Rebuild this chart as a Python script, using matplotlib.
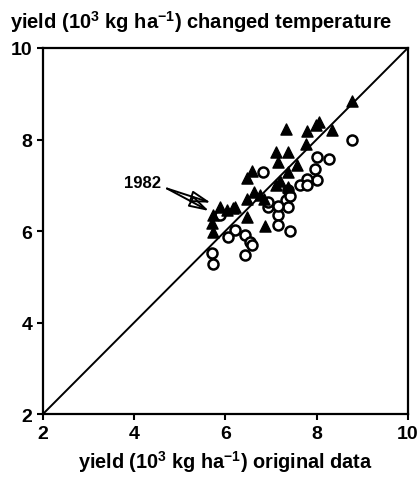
import matplotlib
matplotlib.use("Agg")
import matplotlib.pyplot as plt

plt.rcParams['font.family'] = ['Liberation Sans', 'DejaVu Sans']
plt.rcParams['font.weight'] = 'bold'
plt.rcParams['mathtext.fontset'] = 'custom'
plt.rcParams['mathtext.rm'] = 'Liberation Sans:bold'
plt.rcParams['mathtext.bf'] = 'Liberation Sans:bold'

# changed temperature (filled triangles)
tri_x = [8.77, 8.33, 8.05, 7.98, 7.78, 7.33, 7.76, 7.12, 7.38, 7.15, 7.58, 7.38,
         6.58, 6.47, 7.20, 7.12, 7.37, 6.62, 6.76, 6.85, 6.48, 6.17, 6.03, 5.88,
         5.73, 5.70, 5.73, 6.48, 6.87, 6.21]
tri_y = [8.85, 8.20, 8.38, 8.32, 8.18, 8.22, 7.90, 7.72, 7.72, 7.50, 7.45, 7.28,
         7.32, 7.15, 7.10, 7.00, 6.96, 6.86, 6.78, 6.70, 6.70, 6.50, 6.45, 6.52,
         6.35, 6.17, 5.97, 6.30, 6.10, 6.52]

# second scenario (open circles)
circ_x = [8.77, 8.00, 8.28, 7.96, 8.00, 7.78, 7.64, 7.78, 6.83, 7.38, 7.34, 7.38,
          6.94, 7.16, 7.15, 7.42, 6.21, 6.06, 6.43, 6.54, 6.58, 6.43, 5.70, 5.74,
          5.88, 6.93, 7.15, 7.42]
circ_y = [8.00, 7.62, 7.57, 7.36, 7.12, 7.14, 7.00, 7.00, 7.30, 6.90, 6.68, 6.53,
          6.53, 6.35, 6.13, 6.00, 6.03, 5.88, 5.92, 5.77, 5.70, 5.48, 5.52, 5.27,
          6.36, 6.63, 6.55, 6.77]

ticks = [2, 4, 6, 8, 10]
line_xy = [2, 10]

fig = plt.figure(figsize=(4.2, 4.85), dpi=100)
ax = fig.add_axes([0.102, 0.144, 0.869, 0.755])

ax.plot(line_xy, line_xy, color='black', lw=1.4, zorder=1)
ax.scatter(circ_x, circ_y, s=52, facecolors='white', edgecolors='black',
           linewidths=1.8, zorder=2)
ax.scatter(tri_x, tri_y, s=64, marker='^', color='black', zorder=3)

ax.set_xlim(2, 10)
ax.set_ylim(2, 10)
ax.set_xticks(ticks)
ax.set_yticks(ticks)
ax.tick_params(direction='out', length=4, width=1.5, labelsize=14)
for lab in ax.get_xticklabels() + ax.get_yticklabels():
    lab.set_fontweight('bold')
for sp in ax.spines.values():
    sp.set_linewidth(1.6)

arrow_style = dict(arrowstyle='-|>,head_length=1.2,head_width=0.35',
                   color='black', lw=1.4, fill=False, shrinkA=0, shrinkB=0)
ax.annotate('', xy=(5.68, 6.62), xytext=(4.72, 6.93), arrowprops=arrow_style)
ax.annotate('', xy=(5.64, 6.44), xytext=(4.72, 6.93), arrowprops=arrow_style)
ax.text(4.58, 7.07, '1982', ha='right', va='center', fontsize=12, fontweight='bold')

fig.text(0.024, 0.955, r'yield (10$^{3}$ kg ha$^{-1}$) changed temperature',
         ha='left', va='center', fontsize=14.5, fontweight='bold')
ax.set_xlabel(r'yield (10$^{3}$ kg ha$^{-1}$) original data', fontsize=14.3,
              fontweight='bold', labelpad=5)

fig.savefig('out.png', dpi=100)
